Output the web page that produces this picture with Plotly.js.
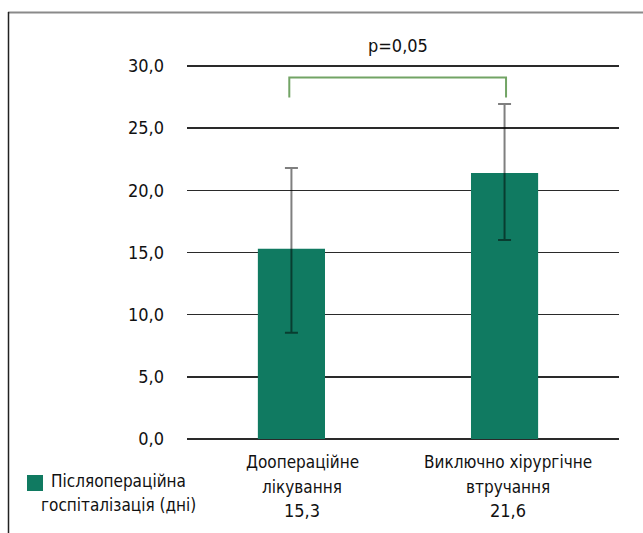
<!DOCTYPE html>
<html>
<head>
<meta charset="utf-8">
<script src="https://cdn.plot.ly/plotly-3.0.1.min.js"></script>
<style>html,body{margin:0;padding:0;background:#fff;}#chart{width:643px;height:533px;}</style>
</head>
<body>
<div id="chart"></div>
<script>
// Data
const categoryLines = [["Доопераційне", "лікування"], ["Виключно хірургічне", "втручання"]];
const valueLabels = ["15,3", "21,6"];
const values = [15.3, 21.4];
const errPlus = [6.5, 5.55];
const errMinus = [6.75, 5.4];
const seriesLines = ["Післяопераційна", "госпіталізація (дні)"];
const pText = "p=0,05";
const yTicks = [0, 5, 10, 15, 20, 25, 30];

const xPos = categoryLines.map((c, i) => i);
const FONT = "DejaVu Sans Condensed, DejaVu Sans, sans-serif";
const TXT = "#111";

const trace = {
  type: "bar",
  x: xPos,
  y: values,
  width: 0.315,
  marker: {color: "#107a61"},
  error_y: {
    type: "data",
    symmetric: false,
    array: errPlus,
    arrayminus: errMinus,
    color: "rgba(0,0,0,0.5)",
    thickness: 2,
    width: 6.5
  },
  showlegend: false,
  hoverinfo: "none"
};

// plot area: x 187..619, y 62..439 (30 at y=66)
const PT = 62, PB = 439;
const YMAX = (PB - PT) / ((PB - 66) / 30);
const px = v => (v - 187) / 432;
const py = v => (PB - v) / (PB - PT);

const bracketTop = 29.07, bracketBottom = 27.46;

const labelOffsets = [0.05, 0.015];
const lineY = [462, 487, 510];
const annotations = [];
categoryLines.forEach((lines, i) => {
  const all = lines.concat([valueLabels[i]]);
  all.forEach((t, j) => {
    annotations.push({text: t, xref: "x", yref: "paper", x: xPos[i] + labelOffsets[i], y: py(lineY[j]),
      showarrow: false, xanchor: "center", yanchor: "middle",
      font: {family: FONT, size: j === 2 ? 18 : 17, color: TXT}});
  });
});
seriesLines.forEach((t, j) => {
  annotations.push({text: t, xref: "paper", yref: "paper", x: px(118), y: py([481, 505][j]),
    showarrow: false, xanchor: "center", yanchor: "middle",
    font: {family: FONT, size: 17, color: TXT}});
});
annotations.push({text: pText, xref: "x", yref: "paper", x: (xPos[0] + xPos[1]) / 2, y: py(46),
  showarrow: false, xanchor: "center", yanchor: "middle",
  font: {family: FONT, size: 18, color: TXT}});

const layout = {
  width: 643, height: 533,
  margin: {l: 187, r: 24, t: PT, b: 533 - PB, pad: 0},
  paper_bgcolor: "#fff", plot_bgcolor: "#fff",
  separators: ", ",
  font: {family: FONT, size: 18, color: TXT},
  xaxis: {
    range: [-0.49, 1.537],
    showticklabels: false,
    showgrid: false, zeroline: false, showline: false, ticks: ""
  },
  yaxis: {
    range: [0, YMAX],
    tickvals: yTicks,
    tickformat: ".1f",
    showgrid: true, gridcolor: "#2a2a2a", gridwidth: 1.5,
    zeroline: true, zerolinecolor: "#2a2a2a", zerolinewidth: 1.5,
    showline: false, ticks: "",
    ticklabelstandoff: 22,
    tickfont: {family: FONT, size: 18, color: TXT}
  },
  shapes: [
    {type: "path", xref: "x", yref: "y",
     path: `M ${xPos[0] - 0.01} ${bracketBottom} L ${xPos[0] - 0.01} ${bracketTop} L ${xPos[1] + 0.007} ${bracketTop} L ${xPos[1] + 0.007} ${bracketBottom}`,
     line: {color: "#72a465", width: 2}},
    {type: "rect", xref: "paper", yref: "paper",
     x0: px(27), x1: px(43), y0: py(491), y1: py(475),
     fillcolor: "#107a61", line: {width: 0}},
    {type: "line", xref: "paper", yref: "paper",
     x0: px(8), x1: px(645), y0: py(12.5), y1: py(12.5),
     line: {color: "#8a8a8a", width: 2}},
    {type: "line", xref: "paper", yref: "paper",
     x0: px(8.5), x1: px(8.5), y0: py(12), y1: py(540),
     line: {color: "#222", width: 1.5}}
  ],
  annotations: annotations
};

Plotly.newPlot("chart", [trace], layout, {displayModeBar: false, staticPlot: true});
</script>
</body>
</html>
